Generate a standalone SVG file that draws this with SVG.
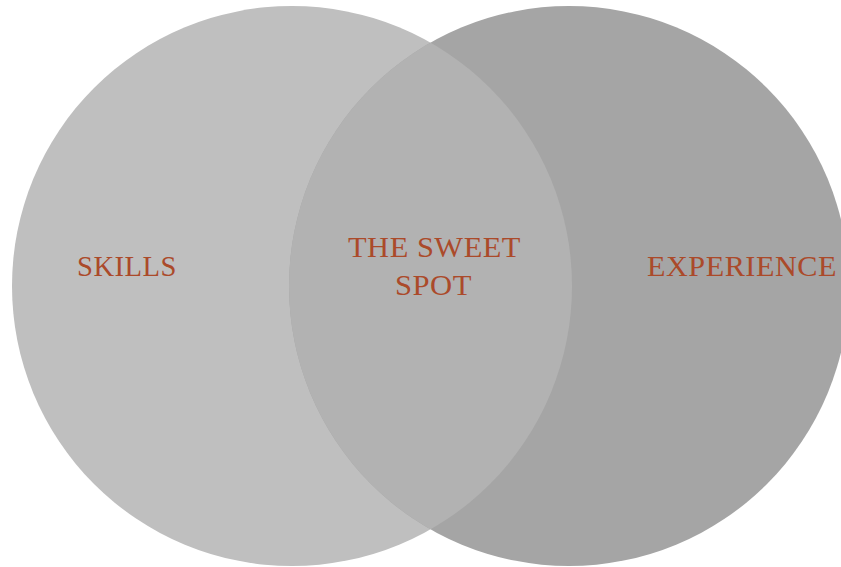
<svg xmlns="http://www.w3.org/2000/svg" width="841" height="567" viewBox="0 0 841 567">
<defs>
<style>
.lbl{font-family:"Liberation Serif","Times New Roman",serif;font-size:29px;fill:#ab4a2a;letter-spacing:0.5px}
</style>
<clipPath id="leftClip"><circle cx="292" cy="286" r="280"/></clipPath>
</defs>
<rect width="841" height="567" fill="#ffffff"/>
<g id="skills">
<circle cx="292" cy="286" r="280" fill="#bfbfbf"/>
</g>
<g id="experience">
<circle cx="569" cy="286" r="280" fill="#a5a5a5"/>
</g>
<g id="sweet-spot">
<circle cx="569" cy="286" r="280" fill="#b2b2b2" clip-path="url(#leftClip)"/>
</g>
<g id="connectors"></g>
<g id="labels">
<text class="lbl" x="77" y="276" textLength="100" lengthAdjust="spacingAndGlyphs">SKILLS</text>
<text class="lbl" x="647" y="276" textLength="190" lengthAdjust="spacingAndGlyphs">EXPERIENCE</text>
<text class="lbl" x="348" y="257" textLength="173" lengthAdjust="spacingAndGlyphs">THE SWEET</text>
<text class="lbl" x="395" y="295" textLength="77" lengthAdjust="spacingAndGlyphs">SPOT</text>
</g>
</svg>
